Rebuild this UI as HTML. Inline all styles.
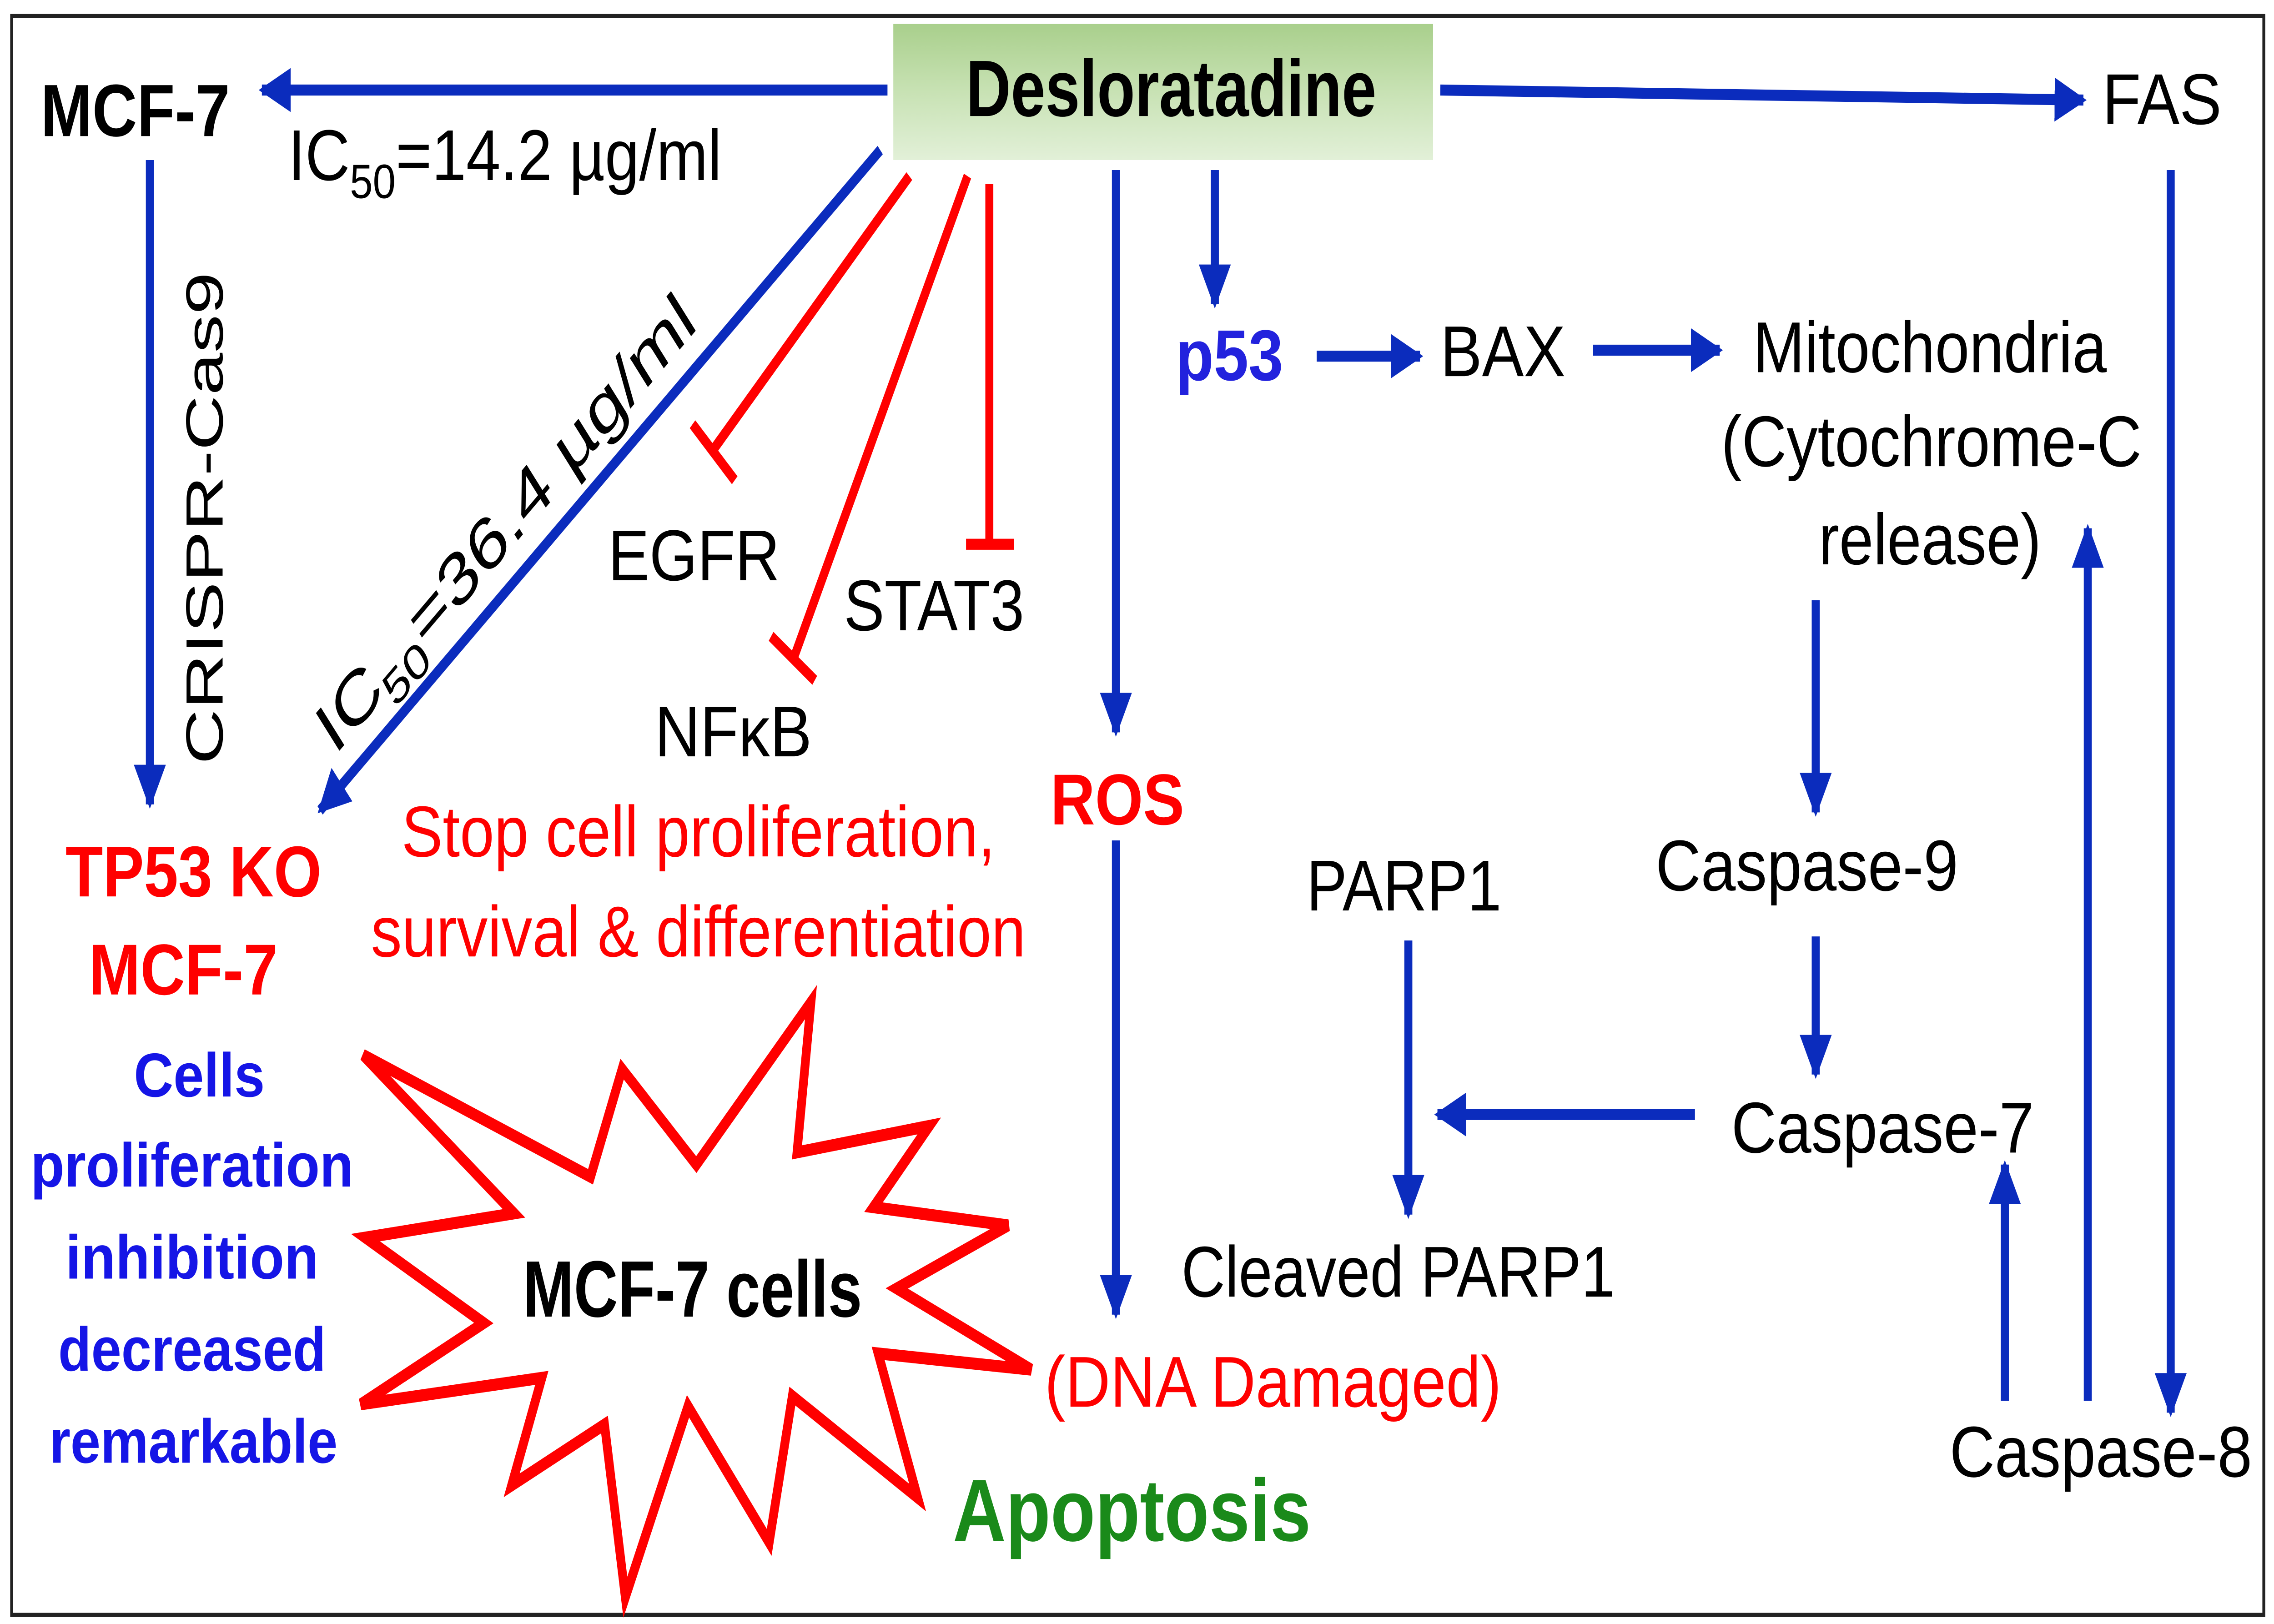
<!DOCTYPE html>
<html><head><meta charset="utf-8"><style>
html,body{margin:0;padding:0;background:#fff;overflow:hidden;}
svg{position:fixed;left:0;top:0;width:100vw;height:100vh;display:block;}
text{font-family:"Liberation Sans",Arial,sans-serif;}
</style></head><body>
<svg viewBox="0 0 1563 811.6" preserveAspectRatio="none" xmlns="http://www.w3.org/2000/svg">
<defs>
<linearGradient id="g" x1="0" y1="0" x2="0" y2="1">
<stop offset="0" stop-color="#a9cf8c"/><stop offset="0.5" stop-color="#c8e2b4"/><stop offset="1" stop-color="#e2f0d8"/>
</linearGradient>
<marker id="a" viewBox="0 0 10 10" refX="9" refY="5" markerWidth="4" markerHeight="4" orient="auto" markerUnits="strokeWidth">
<path d="M0,0 L10,5 L0,10 z" fill="#0b2cbd"/>
</marker>
</defs>
<rect x="8" y="8" width="1548" height="799" fill="#fff" stroke="#222" stroke-width="2"/>
<rect x="614" y="12" width="371" height="68" fill="url(#g)"/>
<text x="805" y="58" font-size="40" font-weight="bold" text-anchor="middle" textLength="282" lengthAdjust="spacingAndGlyphs">Desloratadine</text>

<g stroke="#0b2cbd" stroke-width="5.5" fill="none" marker-end="url(#a)">
<line x1="610" y1="45" x2="180" y2="45"/>
<line x1="990" y1="45" x2="1432" y2="50"/>
<line x1="103" y1="80" x2="103" y2="402"/>
<line x1="605" y1="75" x2="220" y2="405"/>
<line x1="767" y1="85" x2="767" y2="366"/>
<line x1="767" y1="420" x2="767" y2="657"/>
<line x1="835" y1="85" x2="835" y2="152"/>
<line x1="905" y1="178" x2="976" y2="178"/>
<line x1="1095" y1="175" x2="1182" y2="175"/>
<line x1="1248" y1="300" x2="1248" y2="406"/>
<line x1="1248" y1="468" x2="1248" y2="537"/>
<line x1="1165" y1="557" x2="988" y2="557"/>
<line x1="968" y1="470" x2="968" y2="607"/>
<line x1="1492" y1="85" x2="1492" y2="706"/>
<line x1="1378" y1="700" x2="1378" y2="582"/>
<line x1="1435" y1="700" x2="1435" y2="264"/>
</g>

<g stroke="#ff0000" stroke-width="5.5" fill="none">
<line x1="625" y1="88" x2="490" y2="225"/>
<line x1="476" y1="212" x2="505" y2="240"/>
<line x1="665" y1="88" x2="545" y2="330"/>
<line x1="530" y1="318" x2="560" y2="340"/>
<line x1="680" y1="92" x2="680" y2="272"/>
<line x1="664" y1="272" x2="697" y2="272"/>
</g>

<text x="28" y="68" font-size="37" font-weight="bold" textLength="130" lengthAdjust="spacingAndGlyphs">MCF-7</text>
<text x="198" y="90" font-size="36" textLength="298" lengthAdjust="spacingAndGlyphs">IC<tspan font-size="24" dy="9">50</tspan><tspan dy="-9">=14.2 µg/ml</tspan></text>
<text x="1445" y="62" font-size="36" textLength="82" lengthAdjust="spacingAndGlyphs">FAS</text>
<text transform="translate(153,382) rotate(-90)" font-size="36" textLength="246" lengthAdjust="spacingAndGlyphs">CRISPR-Cas9</text>
<text transform="translate(230,378) rotate(-40.6)" font-size="36" textLength="330" lengthAdjust="spacingAndGlyphs">IC<tspan font-size="24" dy="9">50</tspan><tspan dy="-9">=36.4 µg/ml</tspan></text>
<text x="418" y="290" font-size="36" textLength="118" lengthAdjust="spacingAndGlyphs">EGFR</text>
<text x="580" y="315" font-size="36" textLength="124" lengthAdjust="spacingAndGlyphs">STAT3</text>
<text x="450" y="378" font-size="36" textLength="108" lengthAdjust="spacingAndGlyphs">NFκB</text>
<text x="480" y="428" font-size="36" fill="#ff0000" text-anchor="middle" textLength="408" lengthAdjust="spacingAndGlyphs">Stop cell proliferation,</text>
<text x="480" y="478" font-size="36" fill="#ff0000" text-anchor="middle" textLength="450" lengthAdjust="spacingAndGlyphs">survival &amp; differentiation</text>
<text x="722" y="412" font-size="36" font-weight="bold" fill="#ff0000" textLength="92" lengthAdjust="spacingAndGlyphs">ROS</text>
<text x="808" y="190" font-size="36" font-weight="bold" fill="#2222dd" textLength="74" lengthAdjust="spacingAndGlyphs">p53</text>
<text x="990" y="188" font-size="36" textLength="86" lengthAdjust="spacingAndGlyphs">BAX</text>
<text x="1205" y="186" font-size="36" textLength="243" lengthAdjust="spacingAndGlyphs">Mitochondria</text>
<text x="1183" y="233" font-size="36" textLength="289" lengthAdjust="spacingAndGlyphs">(Cytochrome-C</text>
<text x="1250" y="282" font-size="36" textLength="153" lengthAdjust="spacingAndGlyphs">release)</text>
<text x="1138" y="445" font-size="36" textLength="208" lengthAdjust="spacingAndGlyphs">Caspase-9</text>
<text x="1190" y="576" font-size="36" textLength="208" lengthAdjust="spacingAndGlyphs">Caspase-7</text>
<text x="1340" y="738" font-size="36" textLength="208" lengthAdjust="spacingAndGlyphs">Caspase-8</text>
<text x="898" y="455" font-size="36" textLength="134" lengthAdjust="spacingAndGlyphs">PARP1</text>
<text x="812" y="648" font-size="36" textLength="298" lengthAdjust="spacingAndGlyphs">Cleaved PARP1</text>
<text x="718" y="703" font-size="36" fill="#ff0000" textLength="314" lengthAdjust="spacingAndGlyphs">(DNA Damaged)</text>
<text x="655" y="770" font-size="44" font-weight="bold" fill="#1a8a1a" textLength="246" lengthAdjust="spacingAndGlyphs">Apoptosis</text>

<g font-weight="bold" text-anchor="middle">
<text x="133" y="448" font-size="36" fill="#ff0000" textLength="176" lengthAdjust="spacingAndGlyphs">TP53 KO</text>
<text x="126" y="497" font-size="36" fill="#ff0000" textLength="130" lengthAdjust="spacingAndGlyphs">MCF-7</text>
<text x="137" y="548" font-size="31" fill="#1515e6" textLength="90" lengthAdjust="spacingAndGlyphs">Cells</text>
<text x="132" y="593" font-size="31" fill="#1515e6" textLength="222" lengthAdjust="spacingAndGlyphs">proliferation</text>
<text x="132" y="639" font-size="31" fill="#1515e6" textLength="174" lengthAdjust="spacingAndGlyphs">inhibition</text>
<text x="132" y="685" font-size="31" fill="#1515e6" textLength="184" lengthAdjust="spacingAndGlyphs">decreased</text>
<text x="133" y="731" font-size="31" fill="#1515e6" textLength="198" lengthAdjust="spacingAndGlyphs">remarkable</text>
</g>

<polygon points="249.6,527.2 405.9,588.1 427.6,534.3 478.6,582 557.4,500.8 547.8,575.9 638.7,562.7 600.4,603.3 692.9,612.4 616.4,643.9 708.8,684.5 603.6,676.4 630.7,748.4 544.6,697.7 528.7,770.8 472.9,702.8 429.8,798.2 415.5,711.9 351.7,742.3 372.4,688.6 248,701.8 332.5,661.2 251.2,618.5 353.3,606.4" fill="#fff" stroke="#ff0000" stroke-width="6" stroke-linejoin="miter"/>
<text x="476" y="658" font-size="40" font-weight="bold" text-anchor="middle" textLength="233" lengthAdjust="spacingAndGlyphs">MCF-7 cells</text>
</svg>
</body></html>
